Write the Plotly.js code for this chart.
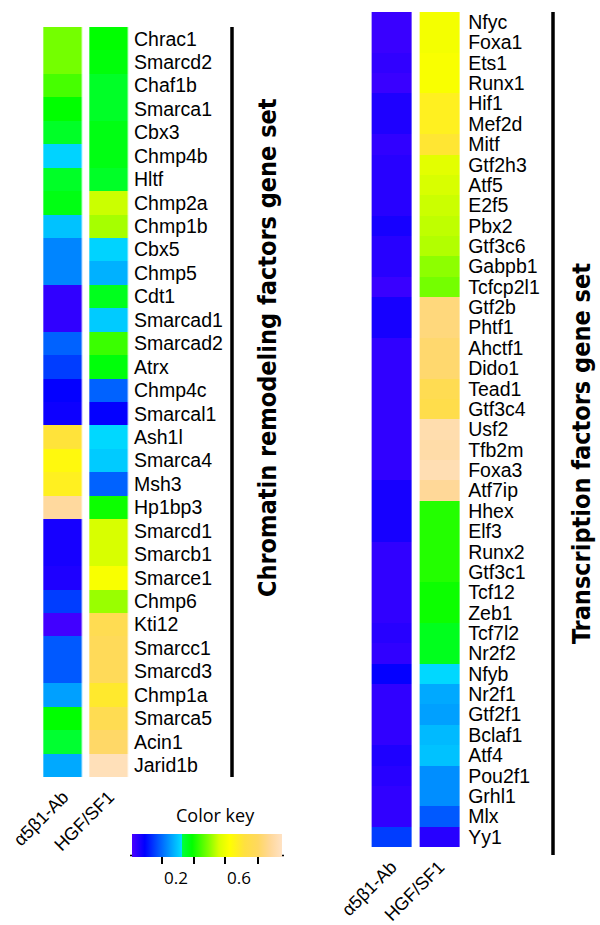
<!DOCTYPE html>
<html>
<head>
<meta charset="utf-8">
<script src="https://cdn.plot.ly/plotly-3.0.1.min.js"></script>
<style>html,body{margin:0;padding:0;background:#fff;}#chart{width:600px;height:925px;}</style>
</head>
<body>
<div id="chart"></div>
<script>
// ---- data ----
const columns = ['α5β1-Ab', 'HGF/SF1'];

const chromatinGenes = ['Chrac1','Smarcd2','Chaf1b','Smarca1','Cbx3','Chmp4b','Hltf','Chmp2a','Chmp1b','Cbx5','Chmp5','Cdt1','Smarcad1','Smarcad2','Atrx','Chmp4c','Smarcal1','Ash1l','Smarca4','Msh3','Hp1bp3','Smarcd1','Smarcb1','Smarce1','Chmp6','Kti12','Smarcc1','Smarcd3','Chmp1a','Smarca5','Acin1','Jarid1b'];
const chromatinAb  = [0.50,0.50,0.46,0.40,0.36,0.32,0.36,0.38,0.30,0.23,0.23,0.03,0.03,0.19,0.15,0.08,0.07,0.74,0.67,0.70,0.93,0.06,0.06,0.05,0.15,0.01,0.18,0.18,0.26,0.40,0.35,0.27];
const chromatinHgf = [0.40,0.39,0.36,0.36,0.38,0.38,0.36,0.57,0.54,0.32,0.28,0.37,0.31,0.45,0.39,0.19,0.08,0.325,0.31,0.19,0.41,0.58,0.58,0.64,0.53,0.80,0.82,0.82,0.72,0.80,0.85,0.98];

const tfGenes = ['Nfyc','Foxa1','Ets1','Runx1','Hif1','Mef2d','Mitf','Gtf2h3','Atf5','E2f5','Pbx2','Gtf3c6','Gabpb1','Tcfcp2l1','Gtf2b','Phtf1','Ahctf1','Dido1','Tead1','Gtf3c4','Usf2','Tfb2m','Foxa3','Atf7ip','Hhex','Elf3','Runx2','Gtf3c1','Tcf12','Zeb1','Tcf7l2','Nr2f2','Nfyb','Nr2f1','Gtf2f1','Bclaf1','Atf4','Pou2f1','Grhl1','Mlx','Yy1'];
const tfAb  = [0.02,0.02,0.03,0.02,0.05,0.05,0.03,0.04,0.04,0.04,0.06,0.04,0.04,0.02,0.06,0.06,0.03,0.03,0.03,0.03,0.03,0.03,0.03,0.06,0.06,0.06,0.03,0.03,0.03,0.03,0.04,0.03,0.08,0.03,0.03,0.03,0.05,0.04,0.03,0.03,0.15];
const tfHgf = [0.63,0.63,0.64,0.64,0.70,0.70,0.73,0.60,0.58,0.57,0.56,0.55,0.52,0.50,0.88,0.88,0.86,0.86,0.80,0.78,0.96,0.95,0.97,0.92,0.43,0.43,0.43,0.43,0.41,0.41,0.37,0.37,0.325,0.27,0.26,0.29,0.30,0.24,0.24,0.18,0.04];

const keyTickVals = [0.2, 0.41, 0.62, 0.84];
const keyLabels = ['0.2', '0.6'];
const keyLabelVals = [0.29, 0.71];

// ---- drawing ----
const W = 600, H = 925;
const px = v => v / W;
const py = v => 1 - v / H;

const colorscale = [
  [0.000, '#4a00ff'],
  [0.085, '#0000ff'],
  [0.170, '#0050ff'],
  [0.260, '#00a0ff'],
  [0.330, '#00dcff'],
  [0.334, '#00ff40'],
  [0.400, '#00ff00'],
  [0.510, '#80ff00'],
  [0.580, '#d8ff00'],
  [0.650, '#ffff00'],
  [0.750, '#ffe040'],
  [0.840, '#ffd860'],
  [0.920, '#ffd898'],
  [1.000, '#ffe2c4']
];

const zOf = (a, b) => a.map((v, i) => [v, b[i]]);

const traces = [
  {type: 'heatmap', x: columns, y: chromatinGenes, z: zOf(chromatinAb, chromatinHgf),
   coloraxis: 'coloraxis', xgap: 7.5, xaxis: 'x', yaxis: 'y', hoverinfo: 'skip'},
  {type: 'heatmap', x: columns, y: tfGenes, z: zOf(tfAb, tfHgf),
   coloraxis: 'coloraxis', xgap: 8, xaxis: 'x2', yaxis: 'y2', hoverinfo: 'skip'}
];

const ARIAL = "'Liberation Sans', Arial, Helvetica, sans-serif";
const NARROW = "'Liberation Sans Narrow', 'DejaVu Sans Condensed', 'Arial Narrow', sans-serif";
const tickFont = {family: ARIAL, size: 19.5, color: '#000'};
const colFont = {family: ARIAL, size: 18, color: '#000'};

const xCommon = {type: 'category', tickangle: -45, tickfont: colFont, showgrid: false,
  zeroline: false, showline: false, ticks: '', fixedrange: true, ticklabelstandoff: 5};
const yCommon = {type: 'category', side: 'right', autorange: 'reversed', tickfont: tickFont,
  showgrid: false, zeroline: false, showline: false, ticks: '', fixedrange: true, tickmode: 'array'};

const layout = {
  width: W, height: H,
  margin: {l: 0, r: 0, t: 0, b: 0},
  paper_bgcolor: '#fff', plot_bgcolor: '#fff',
  showlegend: false,
  xaxis:  Object.assign({}, xCommon, {domain: [px(40.3), px(132)], anchor: 'y'}),
  yaxis:  Object.assign({}, yCommon, {domain: [py(777), py(27)], anchor: 'x', ticklabelstandoff: 1, tickvals: chromatinGenes}),
  xaxis2: Object.assign({}, xCommon, {domain: [px(367.6), px(463.2)], anchor: 'y2'}),
  yaxis2: Object.assign({}, yCommon, {domain: [py(847), py(12)], anchor: 'x2', ticklabelstandoff: 4, tickvals: tfGenes}),
  coloraxis: {
    colorscale: colorscale, cmin: 0, cmax: 1,
    colorbar: {
      orientation: 'h', lenmode: 'pixels', len: 150, thickness: 23,
      x: px(207.3), xanchor: 'center', y: py(864), yanchor: 'bottom',
      xpad: 0, ypad: 0, outlinewidth: 0,
      ticks: 'outside', ticklen: 7, tickwidth: 2, tickcolor: '#000',
      tickvals: keyTickVals, ticktext: keyTickVals.map(() => ''),
      tickfont: {size: 1}
    }
  },
  shapes: [
    {type: 'line', xref: 'paper', yref: 'paper', x0: px(232), x1: px(232), y0: py(27), y1: py(777),
     line: {color: '#000', width: 3.5}},
    {type: 'line', xref: 'paper', yref: 'paper', x0: px(553), x1: px(553), y0: py(12), y1: py(855),
     line: {color: '#000', width: 3.5}},
    {type: 'line', xref: 'paper', yref: 'paper', x0: px(130), x1: px(284), y0: py(855.5), y1: py(855.5),
     line: {color: '#000', width: 1.5}}
  ],
  annotations: [
    {text: '<b>Chromatin remodeling factors gene set</b>', textangle: -90, showarrow: false,
     xref: 'paper', yref: 'paper', x: px(268), y: py(348), xanchor: 'center', yanchor: 'middle',
     font: {family: NARROW, size: 25, color: '#000'}},
    {text: '<b>Transcription factors gene set</b>', textangle: -90, showarrow: false,
     xref: 'paper', yref: 'paper', x: px(581), y: py(454), xanchor: 'center', yanchor: 'middle',
     font: {family: NARROW, size: 25, color: '#000'}},
    {text: 'Color key', showarrow: false, xref: 'paper', yref: 'paper',
     x: px(215), y: py(815), xanchor: 'center', yanchor: 'middle',
     font: {family: "'Open Sans', Lato, sans-serif", size: 18, color: '#000'}}
  ].concat(keyLabels.map((t, i) => ({
     text: t, showarrow: false, xref: 'paper', yref: 'paper',
     x: px(132.3 + 150 * keyLabelVals[i]), y: py(877), xanchor: 'center', yanchor: 'middle',
     font: {family: "'Open Sans', Lato, sans-serif", size: 17, color: '#000'}})))
};

Plotly.newPlot('chart', traces, layout, {staticPlot: true, displayModeBar: false});
</script>
</body>
</html>
